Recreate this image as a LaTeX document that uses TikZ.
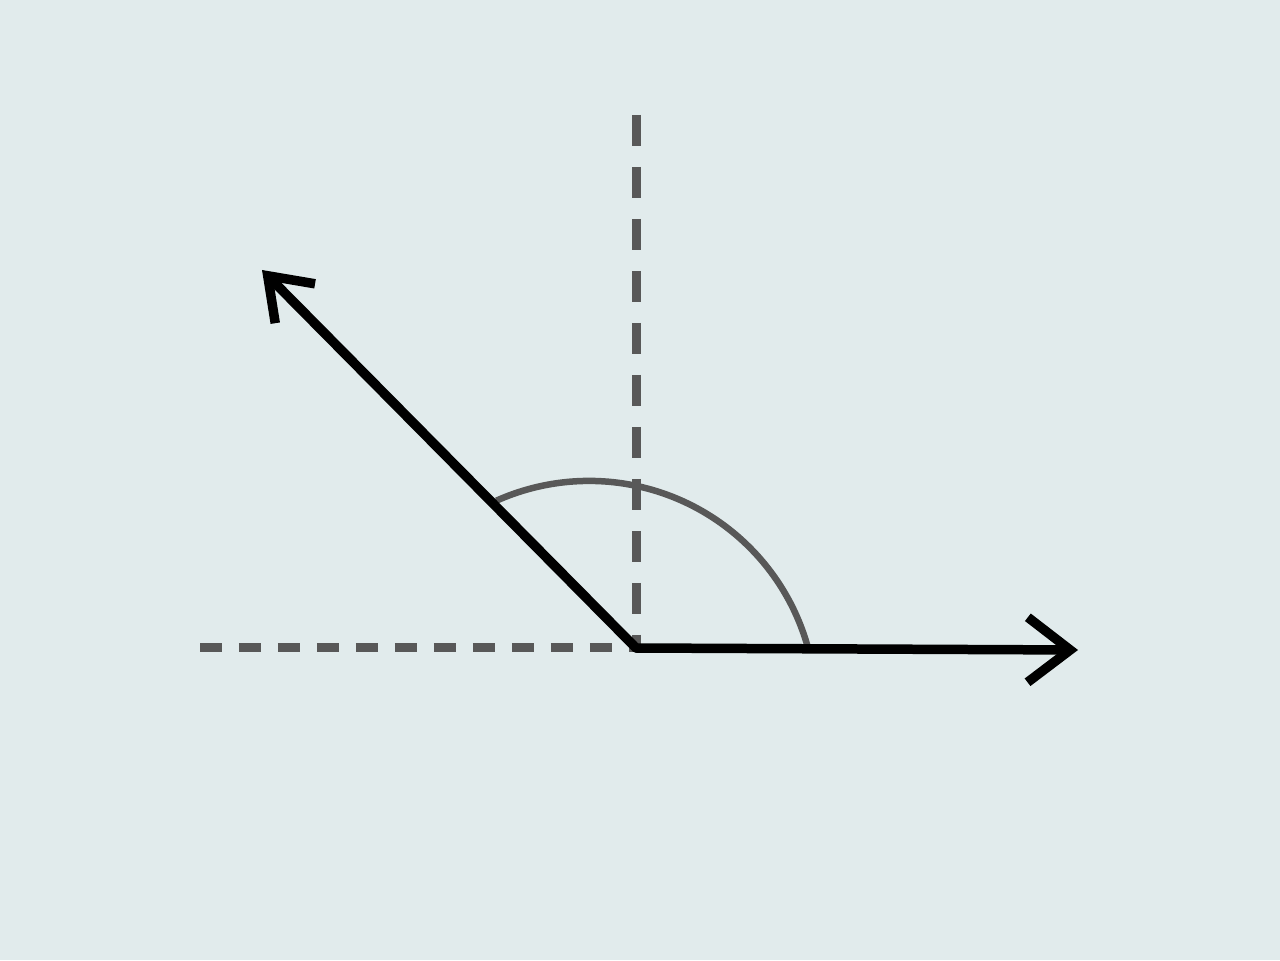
\documentclass[tikz,border=0pt]{standalone}
\usepackage{tikz}
\usetikzlibrary{arrows.meta}
\definecolor{bgpaper}{HTML}{E1EBEC}
\definecolor{guidegray}{HTML}{585858}

\begin{document}
\begin{tikzpicture}[
    x=0.02cm, y=0.02cm,
    guide/.style={guidegray, line width=0.18cm},
    vector/.style={black, line width=0.19cm, line cap=round},
    anglearc/.style={guidegray, line width=0.13cm}
]
% Background
\fill[bgpaper] (0,0) rectangle (1280,960);
\useasboundingbox (0,0) rectangle (1280,960);

% Points
\coordinate (O) at (636,312);
\coordinate (xleft) at (200,312);
\coordinate (ytop) at (636,845);
\coordinate (uend) at (1078,310);
\coordinate (vend) at (262,690);

% Dashed axes
\draw[guide, dash pattern=on 0.44cm off 0.34cm] (xleft) -- (O);
\draw[guide, dash pattern=on 0.62cm off 0.42cm] (ytop) -- (O);

% Angle arc
\draw[anglearc] (808,312) arc[start angle=15.3, end angle=114.1, radius=227];

% Vectors
\draw[vector, -{Straight Barb[length=0.85cm, width=1.3cm]}] (O) -- (uend);
\draw[vector, -{Straight Barb[length=0.78cm, width=1.12cm]}] (O) -- (vend);
\end{tikzpicture}
\end{document}
